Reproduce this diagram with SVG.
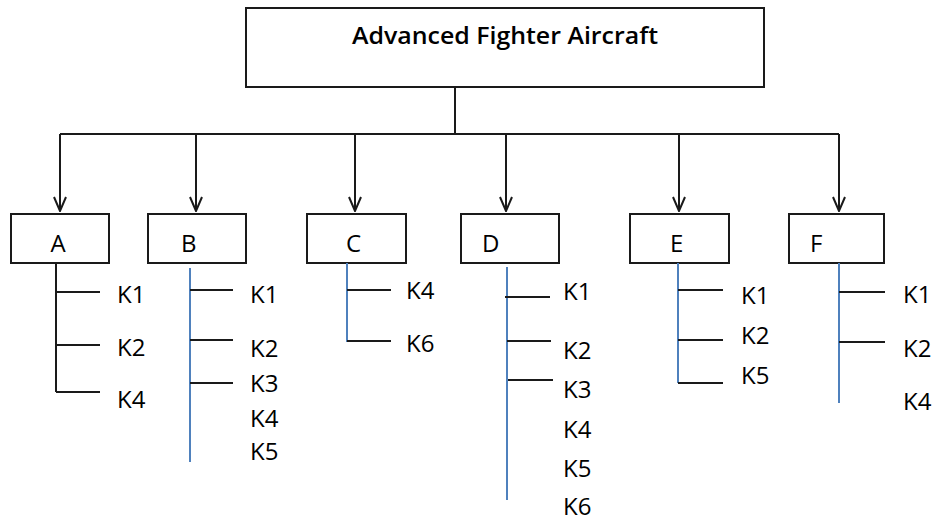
<svg xmlns="http://www.w3.org/2000/svg" width="936" height="521" viewBox="0 0 936 521">
<defs>
<style>
.box{fill:#fff;stroke:#1a1a1a;stroke-width:2}
.ln{stroke:#1a1a1a;stroke-width:2;fill:none}
.bl{stroke:#4f81bd;stroke-width:2;fill:none}
.t{font-family:"Open Sans","Liberation Sans",sans-serif;font-size:24px;fill:#000}
.h{font-family:"Open Sans","Liberation Sans",sans-serif;font-size:23px;font-weight:600;fill:#000}
</style>
<marker id="arr" markerWidth="16" markerHeight="14" refX="15" refY="7" orient="auto" markerUnits="userSpaceOnUse" viewBox="0 0 16 14">
<path d="M1,1 L15,7 L1,13" fill="none" stroke="#1a1a1a" stroke-width="2"/>
</marker>
</defs>
<rect width="936" height="521" fill="#fff"/>
<g id="root">
<rect class="box" x="246" y="8" width="518" height="79"/>
<text class="h" x="352" y="44" textLength="306" lengthAdjust="spacingAndGlyphs">Advanced Fighter Aircraft</text>
</g>
<g id="connectors">
<path class="ln" d="M455,87 V134 M60,134 H839"/>
<path class="ln" d="M60,134 V211" marker-end="url(#arr)"/>
<path class="ln" d="M196,134 V211" marker-end="url(#arr)"/>
<path class="ln" d="M355,134 V211" marker-end="url(#arr)"/>
<path class="ln" d="M506,134 V211" marker-end="url(#arr)"/>
<path class="ln" d="M679,134 V211" marker-end="url(#arr)"/>
<path class="ln" d="M839,134 V211" marker-end="url(#arr)"/>
</g>
<g id="A">
<rect class="box" x="11" y="214" width="98" height="49"/>
<text class="t" x="58" y="252" text-anchor="middle">A</text>
<path class="ln" d="M56,263 V392 M56,292 H100 M56,345 H100 M56,392 H100"/>
<text class="t" x="117" y="303">K1</text>
<text class="t" x="117" y="356">K2</text>
<text class="t" x="117" y="408">K4</text>
</g>
<g id="B">
<rect class="box" x="148" y="214" width="98" height="49"/>
<text class="t" x="181" y="252">B</text>
<path class="bl" d="M190,268 V462"/>
<path class="ln" d="M190,290 H233 M190,340 H233 M190,383 H233"/>
<text class="t" x="250" y="303">K1</text>
<text class="t" x="250" y="357">K2</text>
<text class="t" x="250" y="392">K3</text>
<text class="t" x="250" y="427">K4</text>
<text class="t" x="250" y="460">K5</text>
</g>
<g id="C">
<rect class="box" x="307" y="214" width="99" height="49"/>
<text class="t" x="346" y="252">C</text>
<path class="bl" d="M347,263 V342"/>
<path class="ln" d="M347,290 H391 M347,341 H391"/>
<text class="t" x="406" y="299">K4</text>
<text class="t" x="406" y="352">K6</text>
</g>
<g id="D">
<rect class="box" x="461" y="214" width="98" height="49"/>
<text class="t" x="482" y="252">D</text>
<path class="bl" d="M507,267 V500"/>
<path class="ln" d="M505,297 H550 M507,341 H551 M508,380 H553"/>
<text class="t" x="563" y="300">K1</text>
<text class="t" x="563" y="359">K2</text>
<text class="t" x="563" y="398">K3</text>
<text class="t" x="563" y="438">K4</text>
<text class="t" x="563" y="477">K5</text>
<text class="t" x="563" y="515">K6</text>
</g>
<g id="E">
<rect class="box" x="630" y="214" width="99" height="49"/>
<text class="t" x="670" y="252">E</text>
<path class="bl" d="M678,263 V383"/>
<path class="ln" d="M678,290 H723 M678,340 H723 M678,383 H723"/>
<text class="t" x="741" y="304">K1</text>
<text class="t" x="741" y="344">K2</text>
<text class="t" x="741" y="384">K5</text>
</g>
<g id="F">
<rect class="box" x="789" y="214" width="95" height="49"/>
<text class="t" x="810" y="252">F</text>
<path class="bl" d="M839,263 V403"/>
<path class="ln" d="M839,292 H885 M839,342 H885"/>
<text class="t" x="903" y="303">K1</text>
<text class="t" x="903" y="357">K2</text>
<text class="t" x="903" y="410">K4</text>
</g>
</svg>
